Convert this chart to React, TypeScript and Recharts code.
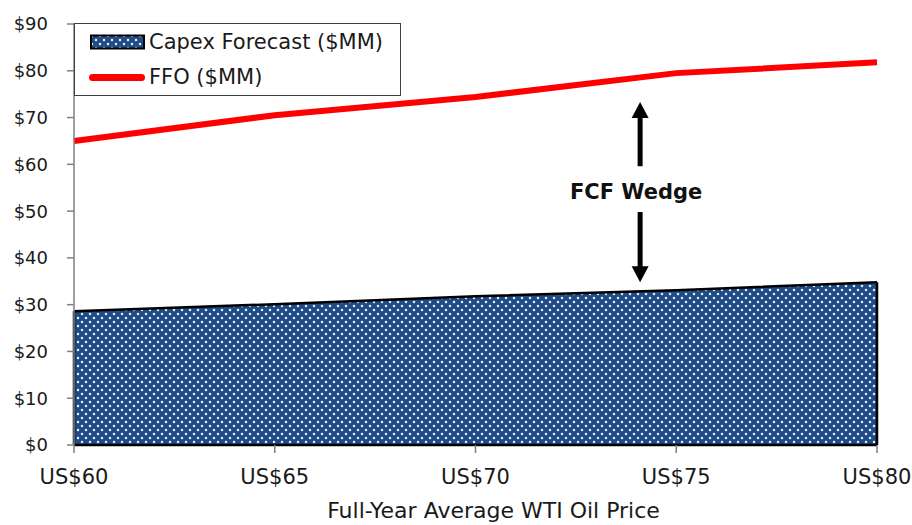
import React from 'react';
import {
  ComposedChart,
  Area,
  Line,
  XAxis,
  YAxis,
  Legend,
  Label,
  ReferenceLine,
  ReferenceDot,
} from 'recharts';

// WTI price scenarios (US$/bbl) and the matching capex / FFO estimates ($MM)
const prices = [60, 65, 70, 75, 80];
const capexForecast = [28.6, 30.1, 31.8, 33.1, 34.8];
const ffo = [65.0, 70.5, 74.4, 79.5, 81.8];
const yTicks = [0, 10, 20, 30, 40, 50, 60, 70, 80, 90];

// "FCF Wedge" annotation, in data units
const wedgeArrowX = 74.1;
const wedgeLabelX = 74.0;
const wedgeLabelY = 54.3;
const wedgeUp = [59.6, 73.3];
const wedgeDown = [49.8, 34.8];

const data = prices.map((p, i) => ({ price: p, capex: capexForecast[i], ffo: ffo[i] }));

const FONT = '"DejaVu Sans", sans-serif';
const NAVY = '#1F4B86';
const DOT = '#e6edf7';

const DotPattern = ({ id }: { id: string }) => (
  <pattern id={id} width={8} height={8} patternUnits="userSpaceOnUse">
    <rect width={8} height={8} fill={NAVY} />
    <circle cx={2} cy={2} r={1.25} fill={DOT} />
    <circle cx={6} cy={6} r={1.25} fill={DOT} />
  </pattern>
);

const Arrow = (props: any) => {
  const { x1, y1, x2, y2 } = props;
  const dir = Math.sign(y2 - y1);
  const head = 16;
  const half = 8.5;
  return (
    <g>
      <line x1={x1} y1={y1} x2={x2} y2={y2 - dir * (head - 1)} stroke="#000" strokeWidth={5} />
      <polygon
        points={`${x2},${y2} ${x2 - half},${y2 - dir * head} ${x2 + half},${y2 - dir * head}`}
        fill="#000"
      />
    </g>
  );
};

const WedgeLabel = (props: any) => (
  <text
    x={props.cx}
    y={props.cy}
    dy="0.36em"
    textAnchor="middle"
    fontFamily={FONT}
    fontWeight="bold"
    fontSize={21}
    fill="#111"
  >
    FCF Wedge
  </text>
);

const LegendBox = () => (
  <div
    style={{
      width: 327,
      height: 73,
      boxSizing: 'border-box',
      border: '1.5px solid #404040',
      background: '#fff',
      fontFamily: FONT,
      fontSize: 21,
      color: '#1a1a1a',
      position: 'relative',
    }}
  >
    <svg width={56} height={16} style={{ position: 'absolute', left: 15, top: 10 }}>
      <defs>
        <DotPattern id="legendDots" />
      </defs>
      <rect x={1} y={1.5} width={53} height={13} fill="url(#legendDots)" stroke="#000" strokeWidth={2} />
    </svg>
    <div style={{ position: 'absolute', left: 74, top: 6, lineHeight: '25px', whiteSpace: 'nowrap' }}>
      Capex Forecast ($MM)
    </div>
    <div
      style={{
        position: 'absolute',
        left: 14,
        top: 50,
        width: 56,
        height: 7,
        borderRadius: 4,
        background: '#FF0000',
      }}
    />
    <div style={{ position: 'absolute', left: 74, top: 41, lineHeight: '25px', whiteSpace: 'nowrap' }}>
      FFO ($MM)
    </div>
  </div>
);

const XTitle = (props: any) => {
  const vb = props.viewBox || {};
  return (
    <text
      x={vb.x + vb.width / 2 + 18}
      y={vb.y + vb.height - 7}
      textAnchor="middle"
      fontFamily={FONT}
      fontSize={22}
      fill="#1a1a1a"
    >
      Full-Year Average WTI Oil Price
    </text>
  );
};

export default function App() {
  return (
    <div style={{ position: 'absolute', left: 0, top: 0, width: 912, height: 525, background: '#fff' }}>
      <ComposedChart
        width={912}
        height={525}
        data={data}
        margin={{ top: 24, right: 35, bottom: 0, left: 0 }}
      >
        <defs>
          <DotPattern id="capexDots" />
        </defs>
        <XAxis
          dataKey="price"
          type="number"
          domain={[60, 80]}
          ticks={prices}
          interval={0}
          height={80}
          tickSize={8}
          tickMargin={16}
          tickFormatter={(v: number) => `US$${v}`}
          tick={{ fontFamily: FONT, fontSize: 21, fill: '#1a1a1a' }}
          axisLine={{ stroke: '#000', strokeWidth: 2.5 }}
          tickLine={{ stroke: '#808080', strokeWidth: 1.5 }}
        >
          <Label content={<XTitle />} />
        </XAxis>
        <XAxis
          xAxisId="frame"
          orientation="top"
          type="number"
          domain={[60, 80]}
          height={0}
          tick={false}
          tickLine={false}
          axisLine={{ stroke: '#8c8c8c', strokeWidth: 1.5 }}
        />
        <YAxis
          domain={[0, 90]}
          ticks={yTicks}
          interval={0}
          width={74}
          tickSize={7}
          tickMargin={19}
          tickFormatter={(v: number) => `$${v}`}
          tick={{ fontFamily: FONT, fontSize: 18, fill: '#1a1a1a' }}
          axisLine={{ stroke: '#808080', strokeWidth: 1.5 }}
          tickLine={{ stroke: '#808080', strokeWidth: 1.5 }}
        />
        <YAxis
          yAxisId="frame"
          orientation="right"
          domain={[0, 90]}
          width={0}
          tick={false}
          tickLine={false}
          axisLine={{ stroke: '#8c8c8c', strokeWidth: 1.5 }}
        />
        <Area
          dataKey="capex"
          type="linear"
          fill="url(#capexDots)"
          fillOpacity={1}
          stroke="#000"
          strokeWidth={2.5}
          isAnimationActive={false}
        />
        <ReferenceLine
          segment={[
            { x: prices[0], y: 0 },
            { x: prices[0], y: capexForecast[0] },
          ]}
          stroke="#000"
          strokeWidth={2.5}
        />
        <ReferenceLine
          segment={[
            { x: prices[prices.length - 1], y: 0 },
            { x: prices[prices.length - 1], y: capexForecast[capexForecast.length - 1] },
          ]}
          stroke="#000"
          strokeWidth={2.5}
        />
        <Line
          dataKey="ffo"
          type="linear"
          stroke="#FF0000"
          strokeWidth={6}
          dot={false}
          isAnimationActive={false}
        />
        <ReferenceLine
          segment={[
            { x: wedgeArrowX, y: wedgeUp[0] },
            { x: wedgeArrowX, y: wedgeUp[1] },
          ]}
          shape={Arrow}
        />
        <ReferenceLine
          segment={[
            { x: wedgeArrowX, y: wedgeDown[0] },
            { x: wedgeArrowX, y: wedgeDown[1] },
          ]}
          shape={Arrow}
        />
        <ReferenceDot x={wedgeLabelX} y={wedgeLabelY} r={0} shape={WedgeLabel} />
        <Legend
          layout="vertical"
          align="center"
          verticalAlign="middle"
          content={<LegendBox />}
          wrapperStyle={{ left: 74, top: 23, width: 327, height: 73, bottom: 'auto', right: 'auto' }}
        />
      </ComposedChart>
    </div>
  );
}
